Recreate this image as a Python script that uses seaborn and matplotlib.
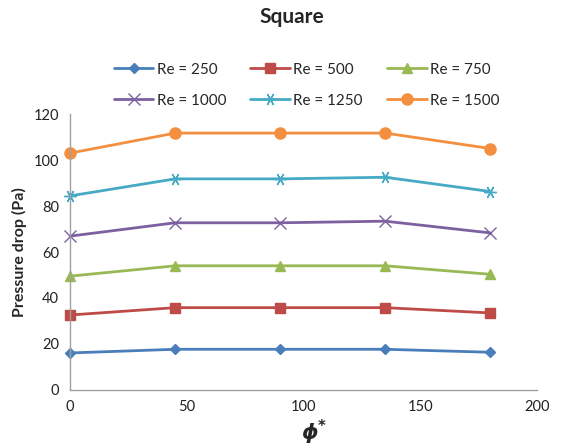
import matplotlib
matplotlib.use("Agg")
import matplotlib.pyplot as plt
import seaborn as sns
import pandas as pd

phi = [0, 45, 90, 135, 180]
re_labels = ["Re = 250", "Re = 500", "Re = 750", "Re = 1000", "Re = 1250", "Re = 1500"]
re250 = [16.1, 17.7, 17.7, 17.7, 16.4]
re500 = [32.6, 35.8, 35.8, 35.8, 33.5]
re750 = [49.5, 54.0, 54.0, 54.0, 50.3]
re1000 = [66.9, 72.7, 72.7, 73.4, 68.3]
re1250 = [84.4, 91.8, 91.8, 92.5, 86.3]
re1500 = [103.0, 111.7, 111.7, 111.7, 105.0]
series = [re250, re500, re750, re1000, re1250, re1500]

colors = ["#4A7EBB", "#BE4B48", "#98B954", "#7D60A0", "#46AAC5", "#F38F3F"]
markers = ["D", "s", "^", "x", (6, 2, 90), "o"]
msizes = [5.5, 7.5, 7.5, 8, 9, 8]

rows = []
for lab, vals in zip(re_labels, series):
    for p, v in zip(phi, vals):
        rows.append({"phi": p, "dp": v, "Re": lab})
df = pd.DataFrame(rows)

sns.set_style("white")
plt.rcParams['font.family'] = ['Lato', 'DejaVu Sans']

fig = plt.figure(figsize=(5.84, 4.48), dpi=100)
ax = fig.add_axes([0.12, 0.1295, 0.7995, 0.616])

handles = []
for lab, col, mk, ms in zip(re_labels, colors, markers, msizes):
    sub = df[df["Re"] == lab]
    sns.lineplot(data=sub, x="phi", y="dp", ax=ax, color=col, marker=mk,
                 markersize=ms, linewidth=2.0, markeredgecolor=col,
                 markeredgewidth=1.0, clip_on=False, label=lab, legend=False)
    handles.append(ax.lines[-1])

ax.set_xlim(0, 200)
ax.set_ylim(0, 120)
ax.set_xticks([0, 50, 100, 150, 200])
ax.set_yticks(range(0, 121, 20))
for s in ["top", "right"]:
    ax.spines[s].set_visible(False)
for s in ["left", "bottom"]:
    ax.spines[s].set_color("#A0A0A0")
    ax.spines[s].set_linewidth(1.0)
ax.tick_params(axis="both", which="both", direction="out", length=5, width=1,
               color="#A0A0A0", labelsize=10.5, labelcolor="#222222", pad=3)
ax.tick_params(axis="x", direction="inout", length=8)

ax.set_xlabel("")
fig.text(0.538, 0.035, r"ϕ$^{\mathbf{*}}$", fontsize=15, ha="center", va="center",
         fontweight="bold", fontstyle="italic", family=["DejaVu Sans"])
ax.set_ylabel("Pressure drop (Pa)", fontsize=11.5, fontweight="bold", labelpad=5)

fig.suptitle("Square", fontsize=15, fontweight="bold", x=0.5, y=0.985)

order = [0, 3, 1, 4, 2, 5]
leg = fig.legend([handles[i] for i in order], [re_labels[i] for i in order],
                 ncol=3, loc="center", bbox_to_anchor=(0.525, 0.81),
                 frameon=False, fontsize=11, handlelength=2.6,
                 columnspacing=1.6, labelspacing=1.1, handletextpad=0.2)

fig.savefig("out.png", dpi=100)
